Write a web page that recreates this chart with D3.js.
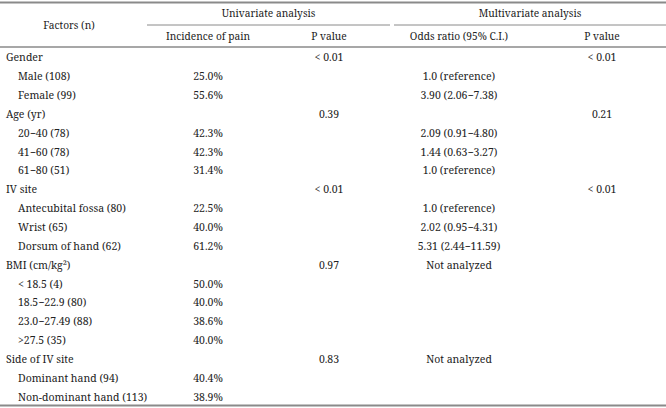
<!DOCTYPE html>
<html><head><meta charset="utf-8">
<script src="https://cdn.jsdelivr.net/npm/d3@7"></script>
<style>body{margin:0;background:#fff}svg{display:block}text{font-family:"Noto Serif","DejaVu Serif",serif;font-size:10.5px;fill:#222}text.hd{font-size:10.2px}</style>
</head><body>
<script>
const factors = ["Gender","Male (108)","Female (99)","Age (yr)","20\u221240 (78)","41\u221260 (78)","61\u221280 (51)","IV site","Antecubital fossa (80)","Wrist (65)","Dorsum of hand (62)","BMI (cm/kg\u00b2)","< 18.5 (4)","18.5\u221222.9 (80)","23.0\u221227.49 (88)",">27.5 (35)","Side of IV site","Dominant hand (94)","Non-dominant hand (113)"];
const isSub = [0,1,1,0,1,1,1,0,1,1,1,0,1,1,1,1,0,1,1];
const incidence = ["","25.0%","55.6%","","42.3%","42.3%","31.4%","","22.5%","40.0%","61.2%","","50.0%","40.0%","38.6%","40.0%","","40.4%","38.9%"];
const pUni = ["< 0.01","","","0.39","","","","< 0.01","","","","0.97","","","","","0.83","",""];
const oddsRatio = ["","1.0 (reference)","3.90 (2.06\u22127.38)","","2.09 (0.91\u22124.80)","1.44 (0.63\u22123.27)","1.0 (reference)","","1.0 (reference)","2.02 (0.95\u22124.31)","5.31 (2.44\u221211.59)","Not analyzed","","","","","Not analyzed","",""];
const pMulti = ["< 0.01","","","0.21","","","","< 0.01","","","","","","","","","","",""];
const groupHeaders = ["Univariate analysis","Multivariate analysis"];
const colHeaders = ["Incidence of pain","P value","Odds ratio (95% C.I.)","P value"];

const W = 666, H = 408;
const svg = d3.select("body").append("svg").attr("width", W).attr("height", H);
const y = d3.scaleBand().domain(d3.range(factors.length)).range([47, 405]);
const colX = [208, 329, 459, 602];
const groupSpan = [[147, 390], [394, 666]];

const line = (x1, x2, yy, w) => svg.append("line").attr("x1", x1).attr("x2", x2).attr("y1", yy).attr("y2", yy).attr("stroke", "#8a8a8a").attr("stroke-width", w);
line(0, W, 2.5, 2);
groupSpan.forEach(s => line(s[0], s[1], 25, 1));
line(0, W, 47, 1.5);
line(0, W, 405.5, 2);

svg.append("text").attr("class", "hd").attr("x", 69).attr("y", 25).attr("text-anchor", "middle").attr("dominant-baseline", "central").text("Factors (n)");
svg.selectAll(".gh").data(groupHeaders).join("text").attr("class", "hd").attr("x", (d, i) => (groupSpan[i][0] + groupSpan[i][1]) / 2).attr("y", 13).attr("text-anchor", "middle").attr("dominant-baseline", "central").text(d => d);
svg.selectAll(".ch").data(colHeaders).join("text").attr("class", "hd").attr("x", (d, i) => colX[i]).attr("y", 36).attr("text-anchor", "middle").attr("dominant-baseline", "central").text(d => d);

const cy = i => y(i) + y.bandwidth() / 2 + 1;
svg.selectAll(".f").data(factors).join("text").attr("x", (d, i) => isSub[i] ? 18 : 6).attr("y", (d, i) => cy(i)).attr("dominant-baseline", "central").text(d => d);
[incidence, pUni, oddsRatio, pMulti].forEach((arr, c) => {
  svg.selectAll(".c" + c).data(arr).join("text").attr("x", colX[c]).attr("y", (d, i) => cy(i)).attr("text-anchor", "middle").attr("dominant-baseline", "central").text(d => d);
});
</script>
</body></html>
